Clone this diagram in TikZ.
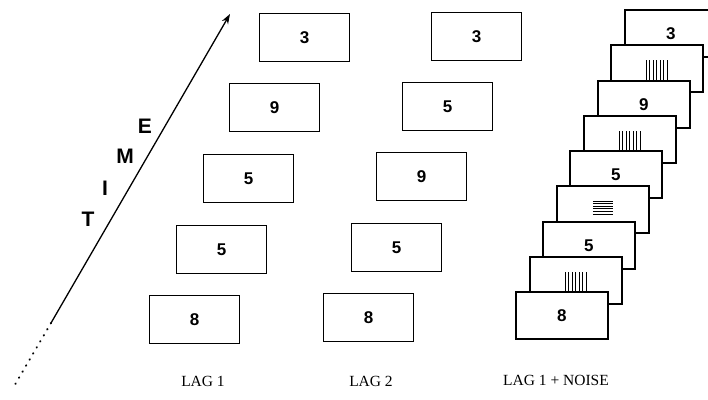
\documentclass[tikz,border=0pt]{standalone}
\usepackage{fontspec}
\setmainfont{Liberation Serif}
\setsansfont{Liberation Sans}
\usetikzlibrary{arrows.meta}
\tikzset{
  digit/.style={font=\sffamily\bfseries\fontsize{17}{17}\selectfont},
  frame/.style={draw, rectangle, fill=white, line width=1.3pt, inner sep=0pt,
    minimum width=90pt, minimum height=48pt, anchor=north west, digit},
  sframe/.style={frame, line width=1.5pt, minimum width=92pt, minimum height=47pt},
  timeletter/.style={font=\sffamily\bfseries\fontsize{21}{21}\selectfont},
  caption/.style={font=\fontsize{15.5}{15.5}\selectfont},
  noiseline/.style={line width=1pt},
}
\begin{document}
\begin{tikzpicture}[x=1pt,y=-1pt]
\useasboundingbox (0,0) rectangle (708,399);
\clip (0,0) rectangle (708,399);
% time arrow
\coordinate (tstart) at (51,323);
\coordinate (tend) at (230,14);
\coordinate (dend) at (13,388);
\draw[line width=1.3pt, -{Stealth[length=10pt,width=7pt]}] (tstart) -- (tend);
\draw[line width=2pt, line cap=round, dash pattern=on 0.5pt off 6.5pt] (tstart) -- (dend);
\node[timeletter] (lt) at (88,219) {T};
\node[timeletter] (li) at (105,188) {I};
\node[timeletter] (lm) at (125,156) {M};
\node[timeletter] (le) at (145,126) {E};
% LAG 1
\node[frame] (a1) at (149,295) {8};
\node[frame] (a2) at (176,225) {5};
\node[frame] (a3) at (203,154) {5};
\node[frame] (a4) at (229,83) {9};
\node[frame] (a5) at (259,13) {3};
% LAG 2
\node[frame] (b1) at (323,293) {8};
\node[frame] (b2) at (351,223) {5};
\node[frame] (b3) at (376,152) {9};
\node[frame] (b4) at (402,82) {5};
\node[frame] (b5) at (431,12) {3};
% LAG 1 + NOISE (back to front)
\foreach \i/\lab/\kind in {8/3/d,7//v,6/9/d,5//v,4/5/d,3//h,2/5/d,1//v,0/8/d}{
  \pgfmathsetmacro{\px}{round(515+13.6*\i)}
  \pgfmathsetmacro{\py}{round(291-35.25*\i)}
  \node[sframe] (c\i) at (\px,\py) {};
  \node[digit] (cl\i) at (c\i.center) {\lab};
  \if v\kind
    \foreach \k in {0,...,6}{
      \draw[noiseline] ([xshift=-10.5pt+3.5*\k pt, yshift=-16pt]c\i.north) -- ([xshift=-10.5pt+3.5*\k pt, yshift=-40pt]c\i.north);
    }
  \fi
  \if h\kind
    \foreach \k in {0,...,5}{
      \draw[noiseline] ([xshift=-10pt, yshift=-16pt-2.6*\k pt]c\i.north) -- ([xshift=10pt, yshift=-16pt-2.6*\k pt]c\i.north);
    }
  \fi
}
% captions
\node[caption] (cap1) at (203,381) {LAG 1};
\node[caption] (cap2) at (371,381) {LAG 2};
\node[caption] (cap3) at (556,380) {LAG 1 + NOISE};
\end{tikzpicture}
\end{document}
